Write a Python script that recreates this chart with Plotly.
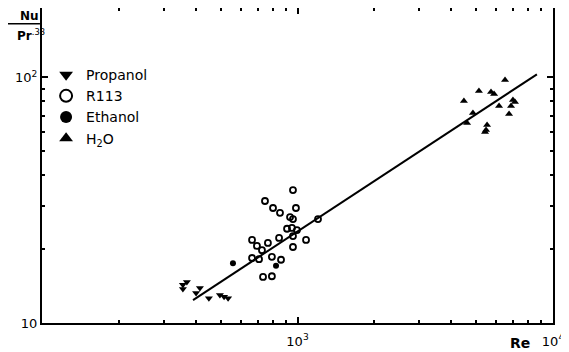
import plotly.graph_objects as go

# Data (Re, Nu/Pr^0.33)
propanol_re = [356, 356, 369, 415, 401, 450, 497, 516, 535]
propanol_y = [14.3, 13.75, 14.7, 13.9, 13.25, 12.6, 13.0, 12.8, 12.6]

r113_re = [960, 746, 802, 854, 986, 935, 960, 1203, 910, 951, 995, 960, 1080,
           847, 766, 664, 694, 726, 960, 664, 707, 794, 862, 733, 794]
r113_y = [34.8, 31.4, 29.4, 28.1, 29.4, 27.0, 26.5, 26.5, 24.2, 24.4, 23.9, 22.6, 21.8,
          22.2, 21.2, 21.8, 20.6, 19.8, 20.4, 18.4, 18.2, 18.6, 18.1, 15.4, 15.5]

ethanol_re = [559, 824]
ethanol_y = [17.5, 17.1]

h2o_re = [6490, 5130, 5720, 5880, 4480, 6970, 7100, 6150, 6850, 4860, 6730, 4610, 5520, 5470, 5420]
h2o_y = [97.7, 88.1, 87.3, 85.7, 80.2, 81.0, 79.4, 76.5, 76.5, 71.7, 71.0, 65.3, 64.0, 61.1, 60.0]

fit_re = [390, 8650]
fit_y = [12.4, 103]

x_ticks = [100, 1000, 10000]
x_ticktext = ["", "10<sup>3</sup>", "10<sup>4</sup>"]
y_ticks = [10, 100]
y_ticktext = ["10", "10<sup>2</sup>"]

FONT = "DejaVu Sans"
fig = go.Figure()

fig.add_trace(go.Scatter(x=fit_re, y=fit_y, mode="lines",
                         line=dict(color="black", width=2), showlegend=False))
fig.add_trace(go.Scatter(x=propanol_re, y=propanol_y, mode="markers", name="Propanol",
                         marker=dict(symbol="triangle-down", size=7, color="black")))
fig.add_trace(go.Scatter(x=r113_re, y=r113_y, mode="markers", name="R113",
                         marker=dict(symbol="circle-open", size=6, color="black",
                                     line=dict(width=1.8))))
fig.add_trace(go.Scatter(x=ethanol_re, y=ethanol_y, mode="markers", name="Ethanol",
                         marker=dict(symbol="circle", size=6, color="black")))
fig.add_trace(go.Scatter(x=h2o_re, y=h2o_y, mode="markers", name="H<sub>2</sub>O",
                         marker=dict(symbol="triangle-up", size=7, color="black")))

axis_common = dict(type="log", showgrid=False, zeroline=False, showline=True,
                   linecolor="black", linewidth=2, mirror="allticks", automargin=False,
                   ticks="inside", ticklen=6, tickwidth=1.5, tickcolor="black",
                   tickfont=dict(family=FONT, size=13, color="black"))

fig.update_xaxes(range=[2, 4], tickvals=x_ticks, ticktext=x_ticktext,
                 ticklabelstandoff=5,
                 minor=dict(ticks="inside", ticklen=3, tickcolor="black",
                            tickvals=[200, 300, 400, 500, 600, 700, 800, 900,
                                      2000, 3000, 4000, 5000, 6000, 7000, 8000, 9000]),
                 **axis_common)
fig.update_yaxes(range=[1, 2.283], tickvals=y_ticks, ticktext=y_ticktext,
                 minor=dict(ticks="inside", ticklen=3, tickcolor="black",
                            tickvals=[20, 30, 40, 50, 60, 70, 80, 90]),
                 **axis_common)

fig.add_annotation(text="<b>Re</b>", xref="paper", yref="paper", x=0.935, y=-0.0635,
                   xanchor="center", yanchor="middle", showarrow=False,
                   font=dict(family=FONT, size=14, color="black"))
fig.add_annotation(text="<b>Nu</b>", xref="paper", yref="paper", x=-0.025, y=0.975,
                   xanchor="center", yanchor="middle", showarrow=False,
                   font=dict(family=FONT, size=12, color="black"))
fig.add_annotation(text="<b>Pr</b><sup>.33</sup>", xref="paper", yref="paper", x=-0.022, y=0.915,
                   xanchor="center", yanchor="middle", showarrow=False,
                   font=dict(family=FONT, size=12, color="black"))
fig.add_shape(type="line", xref="paper", yref="paper", x0=-0.072, x1=-0.004, y0=0.95, y1=0.95,
              line=dict(color="black", width=1.5))

fig.update_layout(
    width=561, height=344,
    margin=dict(l=34, r=16, t=0, b=29),
    paper_bgcolor="white", plot_bgcolor="white",
    showlegend=True,
    legend=dict(x=0.008, y=0.838, xanchor="left", yanchor="top",
                bgcolor="rgba(0,0,0,0)", borderwidth=0,
                font=dict(family=FONT, size=14, color="black"),
                itemsizing="constant", tracegroupgap=2),
)

fig.write_html("out.html")
